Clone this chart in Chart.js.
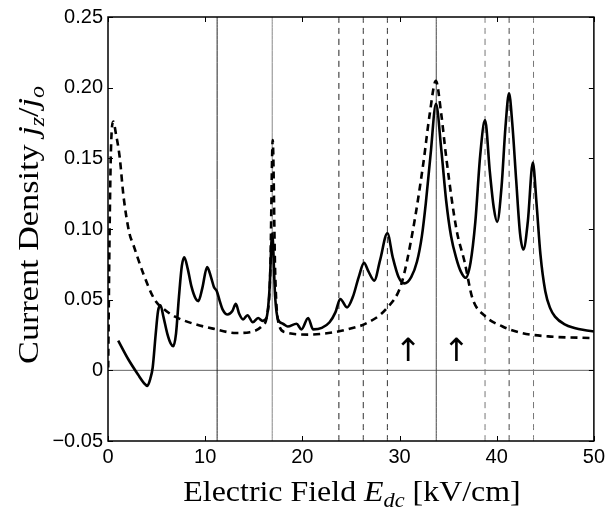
<!DOCTYPE html>
<html>
<head>
<meta charset="utf-8">
<script src="https://cdn.jsdelivr.net/npm/chart.js@4.4.1/dist/chart.umd.min.js"></script>
<style>
  html, body { margin: 0; padding: 0; background: #fff; }
  canvas { display: block; }
</style>
</head>
<body>
<canvas id="chart" width="609" height="515"></canvas>
<script>
//-----------------------------------------------------
// Current density vs. electric field (solid / dashed)
//-----------------------------------------------------

// solid curve
const solidX = [1.05, 2.07, 3.09, 3.7, 4.05, 4.35, 4.6, 4.9, 5.15, 5.4, 5.7, 6.1, 6.45, 6.72, 7.0, 7.3, 7.6, 7.85,
    8.2, 8.6, 9.0, 9.3, 9.7, 10.2, 10.6, 10.9, 11.2, 11.5, 11.8, 12.3, 12.8, 13.15, 13.5, 13.9, 14.35, 14.9,
    15.45, 15.9, 16.3, 16.6, 16.9, 17.2, 17.5, 18.0, 18.5, 19.4, 19.9, 20.6, 21.1, 22.0, 22.8, 23.4, 23.9,
    24.6, 25.2, 25.8, 26.35, 26.8, 27.4, 28.0, 28.75, 29.3, 29.9, 30.5, 31.2, 31.8, 32.3, 32.7, 33.2, 33.75,
    34.3, 34.8, 35.3, 35.85, 36.3, 36.8, 37.3, 37.8, 38.3, 38.8, 39.3, 39.7, 40.05, 40.5, 40.9, 41.27, 41.6,
    42.0, 42.4, 42.75, 43.2, 43.72, 44.1, 44.5, 45.0, 45.5, 46.0, 47.0, 48.0, 49.0, 50.0];
const solidY = [0.021, 0.008, -0.003, -0.009, -0.011, -0.006, 0.002, 0.025, 0.042, 0.046, 0.038, 0.026, 0.019, 0.017, 0.026, 0.052, 0.074, 0.080,
    0.072, 0.059, 0.051, 0.049, 0.058, 0.073, 0.066, 0.059, 0.056, 0.049, 0.043, 0.0395, 0.042, 0.047, 0.040, 0.036, 0.039, 0.034,
    0.037, 0.035, 0.037, 0.055, 0.097, 0.052, 0.036, 0.033, 0.031, 0.033, 0.029, 0.037, 0.029, 0.030, 0.034, 0.041, 0.0505,
    0.0445, 0.052, 0.066, 0.076, 0.070, 0.0635, 0.078, 0.097, 0.080, 0.066, 0.0615, 0.066, 0.077, 0.095, 0.118, 0.153, 0.1885,
    0.156, 0.120, 0.095, 0.079, 0.070, 0.0655, 0.076, 0.105, 0.152, 0.177, 0.140, 0.115, 0.105, 0.130, 0.172, 0.196, 0.175,
    0.135, 0.097, 0.0855, 0.105, 0.147, 0.118, 0.082, 0.056, 0.044, 0.038, 0.0325, 0.030, 0.0285, 0.0275];

// dashed curve
const dashedX = [0.02, 0.15, 0.3, 0.55, 0.8, 1.2, 1.6, 2.2, 2.6, 3.6, 4.8, 5.8, 6.9, 8.6, 10.8, 13.2, 14.6, 15.8,
    16.4, 16.7, 16.95, 17.2, 17.5, 18.2, 20.6, 23.3, 25.7, 26.3, 28.7, 30.2, 31.4, 32.45, 33.1, 33.74, 34.3,
    34.8, 35.85, 36.7, 37.5, 38.7, 40.6, 42.6, 45.3, 50.0];
const dashedY = [0.002, 0.09, 0.155, 0.176, 0.168, 0.151, 0.123, 0.097, 0.089, 0.069, 0.050, 0.043, 0.038, 0.0334, 0.0295, 0.0264, 0.027, 0.031,
    0.040, 0.070, 0.163, 0.070, 0.035, 0.027, 0.0253, 0.027, 0.031, 0.0323, 0.044, 0.0614, 0.100, 0.1465, 0.181, 0.2048, 0.181,
    0.151, 0.100, 0.0766, 0.051, 0.039, 0.031, 0.0264, 0.024, 0.0228];

// vertical marker lines
const solidMarkers = [11.23, 16.9, 33.78];
const solidMarkerColors = ['#222', '#888', '#444'];
const dashedMarkers = [23.76, 26.27, 28.75, 38.8, 41.28, 43.79];
const dashedMarkerColors = ['#222', '#333', '#333', '#777', '#444', '#777'];

// arrows under the big peak
const arrowX = [30.9, 35.85];
const arrowY = 0.0125;

// axes
const xTicks = [0, 10, 20, 30, 40, 50];
const xTickLabels = ['0', '10', '20', '30', '40', '50'];
const yTicks = [-0.05, 0, 0.05, 0.10, 0.15, 0.20, 0.25];
const yTickLabels = ['\u22120.05', '0', '0.05', '0.10', '0.15', '0.20', '0.25'];

const toPoints = (xs, ys) => xs.map((x, i) => ({ x: x, y: ys[i] }));

const datasets = [];
datasets.push({ data: toPoints(solidX, solidY), borderColor: '#000', borderWidth: 2.6, order: 0 });
datasets.push({ data: toPoints(dashedX, dashedY), borderColor: '#000', borderWidth: 2.6, borderDash: [7, 5], order: 1 });
datasets.push({ data: [{ x: 0, y: 0 }, { x: 50, y: 0 }], borderColor: '#666', borderWidth: 1, order: 5 });
solidMarkers.forEach((m, i) => {
    datasets.push({ data: [{ x: m, y: -0.05 }, { x: m, y: 0.25 }], borderColor: solidMarkerColors[i], borderWidth: 1, order: 4 });
});
dashedMarkers.forEach((m, i) => {
    datasets.push({ data: [{ x: m, y: -0.05 }, { x: m, y: 0.25 }], borderColor: dashedMarkerColors[i], borderWidth: 1, borderDash: [6, 5], order: 4 });
});
datasets.forEach(d => {
    d.pointRadius = 0;
    d.fill = false;
    d.cubicInterpolationMode = 'monotone';
});

const SERIF = '"Liberation Serif", "DejaVu Serif", serif';

// draw text made of roman / italic / subscript pieces, centred on 0
function drawRich(ctx, parts, size) {
    const fontOf = p => (p.it ? 'italic ' : '') + (p.sub ? size * 0.7 : size) + 'px ' + SERIF;
    let total = 0;
    parts.forEach(p => { ctx.font = fontOf(p); total += ctx.measureText(p.t).width; });
    let x = -total / 2;
    parts.forEach(p => {
        ctx.font = fontOf(p);
        ctx.fillText(p.t, x, p.sub ? size * 0.22 : 0);
        x += ctx.measureText(p.t).width;
    });
}

const framePlugin = {
    id: 'frame',
    afterDatasetsDraw(chart) {
        const ctx = chart.ctx;
        const a = chart.chartArea;
        const xs = chart.scales.x, ys = chart.scales.y;
        ctx.save();
        ctx.strokeStyle = '#000';
        ctx.lineWidth = 1.5;
        ctx.strokeRect(a.left, a.top, a.right - a.left, a.bottom - a.top);
        ctx.lineWidth = 1;
        ctx.beginPath();
        xTicks.forEach(v => {
            const px = Math.round(xs.getPixelForValue(v)) + 0.5;
            ctx.moveTo(px, a.bottom); ctx.lineTo(px, a.bottom - 5);
            ctx.moveTo(px, a.top); ctx.lineTo(px, a.top + 5);
        });
        yTicks.forEach(v => {
            const py = Math.round(ys.getPixelForValue(v)) + 0.5;
            ctx.moveTo(a.left, py); ctx.lineTo(a.left + 5, py);
            ctx.moveTo(a.right, py); ctx.lineTo(a.right - 5, py);
        });
        ctx.stroke();

        // arrows
        ctx.fillStyle = '#000';
        ctx.font = '32px "DejaVu Sans"';
        ctx.textAlign = 'center';
        ctx.textBaseline = 'middle';
        arrowX.forEach(v => ctx.fillText('\u2191', xs.getPixelForValue(v), ys.getPixelForValue(arrowY)));

        // axis titles
        ctx.textAlign = 'left';
        ctx.textBaseline = 'alphabetic';
        ctx.save();
        ctx.translate(352, 501);
        ctx.scale(1.1, 1);
        drawRich(ctx, [
            { t: 'Electric Field ' }, { t: 'E', it: true }, { t: 'dc', it: true, sub: true }, { t: ' [kV/cm]' }
        ], 29);
        ctx.restore();
        ctx.save();
        ctx.translate(38, 225);
        ctx.rotate(-Math.PI / 2);
        ctx.scale(1.18, 1);
        drawRich(ctx, [
            { t: 'Current Density ' }, { t: 'j', it: true }, { t: 'z', it: true, sub: true }, { t: '/' },
            { t: 'j', it: true }, { t: 'o', it: true, sub: true }
        ], 29);
        ctx.restore();
        ctx.restore();
    }
};

new Chart(document.getElementById('chart').getContext('2d'), {
    type: 'line',
    data: { datasets: datasets },
    options: {
        responsive: false,
        animation: false,
        devicePixelRatio: 1,
        layout: { padding: { left: 0, top: 12, right: 10, bottom: 0 } },
        plugins: { legend: { display: false }, tooltip: { enabled: false } },
        scales: {
            x: {
                type: 'linear', min: 0, max: 50,
                grid: { display: false, drawTicks: false },
                border: { display: false },
                afterBuildTicks: s => { s.ticks = xTicks.map(v => ({ value: v })); },
                afterFit: s => { s.height = 74; },
                ticks: {
                    padding: 4, color: '#000', maxRotation: 0,
                    font: { family: '"Liberation Sans", Arial, sans-serif', size: 20 },
                    callback: v => xTickLabels[xTicks.indexOf(v)]
                }
            },
            y: {
                type: 'linear', min: -0.05, max: 0.25,
                grid: { display: false, drawTicks: false },
                border: { display: false },
                afterBuildTicks: s => { s.ticks = yTicks.map(v => ({ value: v })); },
                afterFit: s => { s.width = 108; },
                ticks: {
                    padding: 5, color: '#000',
                    font: { family: '"Liberation Sans", Arial, sans-serif', size: 20 },
                    callback: (v, i) => yTickLabels[i]
                }
            }
        }
    },
    plugins: [framePlugin]
});
</script>
</body>
</html>
